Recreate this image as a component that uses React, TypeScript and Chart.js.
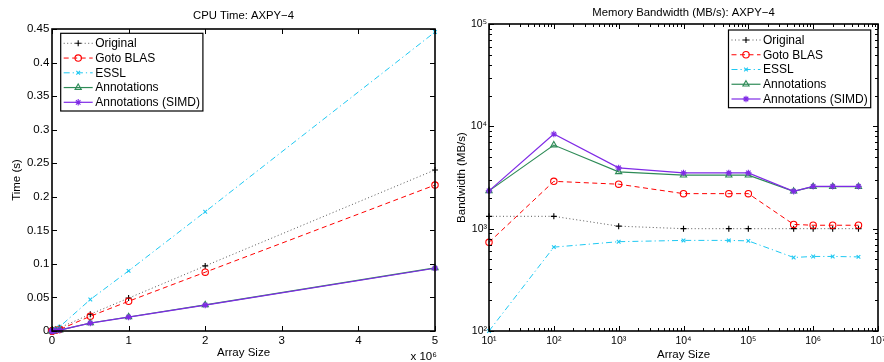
import React, { useEffect, useRef } from 'react';
import { Chart, registerables } from 'chart.js';
import { drawPoint } from 'chart.js/helpers';

Chart.register(...registerables);

const FONT = '"Liberation Sans", Arial, Helvetica, sans-serif';

// ---------- data ----------
const arraySizes = [10, 100, 1000, 10000, 50000, 100000, 500000, 1000000, 2000000, 5000000];
const seriesNames = ['Original', 'Goto BLAS', 'ESSL', 'Annotations', 'Annotations (SIMD)'];

// CPU time (s)
const timeOriginal = [0.0000004, 0.000004, 0.000046, 0.00048, 0.0024, 0.0048, 0.025, 0.049, 0.097, 0.24];
const timeGoto = [0.0000007, 0.0000016, 0.000018, 0.00022, 0.0011, 0.0022, 0.022, 0.0443, 0.0876, 0.2175];
const timeEssl = [0.0000048, 0.0000073, 0.000064, 0.00063, 0.0031, 0.0063, 0.0469, 0.0896, 0.1777, 0.4455];
const timeAnnot = [0.0000002, 0.00000073, 0.0000134, 0.000144, 0.00072, 0.00144, 0.0119, 0.0209, 0.0388, 0.094];
const timeSimd = [0.0000002, 0.00000057, 0.0000122, 0.000137, 0.00068, 0.00137, 0.0118, 0.0207, 0.0385, 0.0935];

// Memory bandwidth (MB/s)
const bwOriginal = [1320, 1320, 1058, 1000, 1000, 1000, 1000, 1000, 1000, 1000];
const bwGoto = [735, 2900, 2720, 2200, 2200, 2200, 1100, 1080, 1080, 1080];
const bwEssl = [100, 660, 746, 768, 768, 760, 523, 535, 535, 530];
const bwAnnot = [2340, 6560, 3590, 3330, 3330, 3330, 2320, 2570, 2570, 2570];
const bwSimd = [2340, 8410, 3930, 3510, 3510, 3510, 2320, 2590, 2590, 2590];

// ticks
const timeXTickValues = [0, 1000000, 2000000, 3000000, 4000000, 5000000];
const timeXTickLabels = ['0', '1', '2', '3', '4', '5'];
const timeYTickValues = [0, 0.05, 0.1, 0.15, 0.2, 0.25, 0.3, 0.35, 0.4, 0.45];
const timeYTickLabels = ['0', '0.05', '0.1', '0.15', '0.2', '0.25', '0.3', '0.35', '0.4', '0.45'];
const bwXTickValues = [10, 100, 1000, 10000, 100000, 1000000, 10000000];
const bwXTickLabels = ['10¹', '10²', '10³', '10⁴', '10⁵', '10⁶', '10⁷'];
const bwYTickValues = [100, 1000, 10000, 100000];
const bwYTickLabels = ['10²', '10³', '10⁴', '10⁵'];

// ---------- styles ----------
const seriesStyles = [
  { line: 'rgba(60,60,60,0.85)', marker: '#000', dash: [1, 2.5], point: 'cross', radius: 3, width: 1, fill: 'rgba(0,0,0,0)' },
  { line: '#ff0000', marker: '#ff0000', dash: [5, 3.5], point: 'circle', radius: 3.2, width: 1, fill: 'rgba(0,0,0,0)' },
  { line: '#1ec8f2', marker: '#1ec8f2', dash: [6, 3, 1.2, 3], point: 'crossRot', radius: 2.6, width: 1, fill: 'rgba(0,0,0,0)' },
  { line: '#2e8b57', marker: '#2e8b57', dash: [], point: 'triangle', radius: 3.6, width: 1.2, fill: 'rgba(0,0,0,0)' },
  { line: '#7f2ae6', marker: '#7f2ae6', dash: [], point: 'star', radius: 3.2, width: 1.2, fill: '#7f2ae6' },
];

function makeDatasets(series: number[][]) {
  return series.map((vals, i) => {
    const s = seriesStyles[i];
    return {
      label: seriesNames[i],
      data: arraySizes.map((x, j) => ({ x, y: vals[j] })),
      borderColor: s.line,
      borderWidth: s.width,
      borderDash: s.dash,
      pointStyle: s.point,
      pointRadius: s.radius,
      pointBorderColor: s.marker,
      pointBackgroundColor: s.fill,
      pointBorderWidth: 1.1,
      fill: false,
      tension: 0,
      clip: false as any,
      order: 5 - i,
    };
  });
}

// ---------- plugins ----------
const frameTicksPlugin = {
  id: 'frameTicks',
  afterDatasetsDraw(chart: any, _args: any, opts: any) {
    const { ctx, chartArea: a, scales } = chart;
    const xs = scales.x;
    const ys = scales.y;
    const major = 5;
    const minor = 3;
    ctx.save();
    ctx.setLineDash([]);
    ctx.strokeStyle = '#000';
    ctx.lineWidth = 1;
    ctx.beginPath();
    xs.ticks.forEach((t: any) => {
      const p = Math.round(xs.getPixelForValue(t.value)) + 0.5;
      ctx.moveTo(p, a.bottom);
      ctx.lineTo(p, a.bottom - major);
      ctx.moveTo(p, a.top);
      ctx.lineTo(p, a.top + major);
    });
    ys.ticks.forEach((t: any) => {
      const p = Math.round(ys.getPixelForValue(t.value)) + 0.5;
      ctx.moveTo(a.left, p);
      ctx.lineTo(a.left + major, p);
      ctx.moveTo(a.right, p);
      ctx.lineTo(a.right - major, p);
    });
    if (opts && opts.minor) {
      const minorVals = (sc: any) => {
        const out: number[] = [];
        const lo = Math.floor(Math.log10(sc.min));
        const hi = Math.ceil(Math.log10(sc.max));
        for (let k = lo; k < hi; k++) {
          for (let m = 2; m <= 9; m++) {
            const v = m * Math.pow(10, k);
            if (v > sc.min && v < sc.max) out.push(v);
          }
        }
        return out;
      };
      minorVals(xs).forEach((v) => {
        const p = Math.round(xs.getPixelForValue(v)) + 0.5;
        ctx.moveTo(p, a.bottom);
        ctx.lineTo(p, a.bottom - minor);
        ctx.moveTo(p, a.top);
        ctx.lineTo(p, a.top + minor);
      });
      minorVals(ys).forEach((v) => {
        const p = Math.round(ys.getPixelForValue(v)) + 0.5;
        ctx.moveTo(a.left, p);
        ctx.lineTo(a.left + minor, p);
        ctx.moveTo(a.right, p);
        ctx.lineTo(a.right - minor, p);
      });
    }
    ctx.stroke();
    ctx.lineWidth = 1.6;
    ctx.strokeRect(a.left, a.top, a.right - a.left, a.bottom - a.top);
    ctx.restore();
  },
};

const decorPlugin = {
  id: 'decor',
  afterDraw(chart: any, _args: any, opts: any) {
    const { ctx, chartArea: a } = chart;
    ctx.save();
    // title centred on plot area
    ctx.fillStyle = '#000';
    ctx.font = `11.3px ${FONT}`;
    ctx.textAlign = 'center';
    ctx.textBaseline = 'middle';
    ctx.fillText(opts.title, (a.left + a.right) / 2, opts.titleY);

    // exponent note
    if (opts.note) {
      ctx.font = `11.5px ${FONT}`;
      ctx.textAlign = 'right';
      ctx.textBaseline = 'alphabetic';
      ctx.fillText(opts.note, a.right + 2, a.bottom + 28.5);
    }

    // legend
    const dss = chart.data.datasets;
    ctx.font = `12px ${FONT}`;
    let maxW = 0;
    dss.forEach((d: any) => {
      maxW = Math.max(maxW, ctx.measureText(d.label).width);
    });
    const textX = 34.5;
    const bw = textX + maxW + 3;
    const rowH = 14.75;
    const bh = 77.7;
    const bx = opts.legendSide === 'left' ? a.left + 8.7 : a.right - 7.3 - bw;
    const by = a.top + opts.legendTop;
    ctx.fillStyle = '#fff';
    ctx.fillRect(bx, by, bw, bh);
    ctx.strokeStyle = '#000';
    ctx.lineWidth = 1.2;
    ctx.setLineDash([]);
    ctx.strokeRect(bx, by, bw, bh);
    dss.forEach((d: any, i: number) => {
      const ry = by + 10 + rowH * i;
      ctx.strokeStyle = d.borderColor;
      ctx.lineWidth = d.borderWidth;
      ctx.setLineDash(d.borderDash || []);
      ctx.beginPath();
      ctx.moveTo(bx + 3, ry);
      ctx.lineTo(bx + 32, ry);
      ctx.stroke();
      ctx.setLineDash([]);
      ctx.strokeStyle = d.pointBorderColor;
      ctx.fillStyle = d.pointBackgroundColor;
      ctx.lineWidth = d.pointBorderWidth;
      drawPoint(ctx, { pointStyle: d.pointStyle, radius: d.pointRadius, rotation: 0, borderWidth: d.pointBorderWidth } as any, bx + 17.5, ry);
      ctx.fillStyle = '#000';
      ctx.textAlign = 'left';
      ctx.textBaseline = 'middle';
      ctx.fillText(d.label, bx + textX, ry + 0.5);
    });
    ctx.restore();
  },
};

// ---------- configs ----------
function leftConfig(): any {
  return {
    type: 'line',
    data: { datasets: makeDatasets([timeOriginal, timeGoto, timeEssl, timeAnnot, timeSimd]) },
    plugins: [frameTicksPlugin, decorPlugin],
    options: {
      animation: false,
      responsive: false,
      devicePixelRatio: 1,
      parsing: true,
      layout: { padding: { top: 29, right: 7, bottom: 0, left: 0 } },
      plugins: {
        legend: { display: false },
        tooltip: { enabled: false },
        title: { display: false },
        frameTicks: { minor: false },
        decor: { title: 'CPU Time: AXPY−4', titleY: 15.5, note: 'x 10⁶', legendSide: 'left', legendTop: 4.3 },
      },
      scales: {
        x: {
          type: 'linear',
          min: 0,
          max: 5000000,
          grid: { display: false, drawTicks: false },
          border: { display: false },
          afterBuildTicks: (s: any) => {
            s.ticks = timeXTickValues.map((v) => ({ value: v }));
          },
          afterFit: (s: any) => {
            s.height = 31;
            s.paddingLeft = 0;
            s.paddingRight = 0;
          },
          ticks: {
            autoSkip: false,
            maxRotation: 0,
            padding: 2.5,
            color: '#000',
            font: { family: FONT, size: 11.5 },
            callback: (_v: any, i: number) => timeXTickLabels[i],
          },
          title: { display: true, text: 'Array Size', color: '#000', font: { family: FONT, size: 11.5 }, padding: { top: 0, bottom: 2.1 } },
        },
        y: {
          type: 'linear',
          min: 0,
          max: 0.45,
          grid: { display: false, drawTicks: false },
          border: { display: false },
          afterBuildTicks: (s: any) => {
            s.ticks = timeYTickValues.map((v) => ({ value: v }));
          },
          afterFit: (s: any) => {
            s.width = 52;
            s.paddingTop = 0;
            s.paddingBottom = 0;
          },
          ticks: {
            autoSkip: false,
            padding: 2.7,
            color: '#000',
            font: { family: FONT, size: 11.5 },
            callback: (_v: any, i: number) => timeYTickLabels[i],
          },
          title: { display: true, text: 'Time (s)', color: '#000', font: { family: FONT, size: 11.5 }, padding: { top: 10, bottom: 0 } },
        },
      },
    },
  };
}

function rightConfig(): any {
  return {
    type: 'line',
    data: { datasets: makeDatasets([bwOriginal, bwGoto, bwEssl, bwAnnot, bwSimd]) },
    plugins: [frameTicksPlugin, decorPlugin],
    options: {
      animation: false,
      responsive: false,
      devicePixelRatio: 1,
      layout: { padding: { top: 24, right: 6, bottom: 0, left: 0 } },
      plugins: {
        legend: { display: false },
        tooltip: { enabled: false },
        title: { display: false },
        frameTicks: { minor: true },
        decor: { title: 'Memory Bandwidth (MB/s): AXPY−4', titleY: 12.7, note: '', legendSide: 'right', legendTop: 6 },
      },
      scales: {
        x: {
          type: 'logarithmic',
          min: 10,
          max: 10000000,
          grid: { display: false, drawTicks: false },
          border: { display: false },
          afterBuildTicks: (s: any) => {
            s.ticks = bwXTickValues.map((v) => ({ value: v }));
          },
          afterFit: (s: any) => {
            s.height = 31;
            s.paddingLeft = 0;
            s.paddingRight = 0;
          },
          ticks: {
            autoSkip: false,
            maxRotation: 0,
            padding: 4,
            color: '#000',
            font: { family: FONT, size: 10.5 },
            callback: (_v: any, i: number) => bwXTickLabels[i],
          },
          title: { display: true, text: 'Array Size', color: '#000', font: { family: FONT, size: 11.5 }, padding: { top: 0, bottom: 0 } },
        },
        y: {
          type: 'logarithmic',
          min: 100,
          max: 100000,
          grid: { display: false, drawTicks: false },
          border: { display: false },
          afterBuildTicks: (s: any) => {
            s.ticks = bwYTickValues.map((v) => ({ value: v }));
          },
          afterFit: (s: any) => {
            s.width = 47;
            s.paddingTop = 0;
            s.paddingBottom = 0;
          },
          ticks: {
            autoSkip: false,
            padding: 2,
            color: '#000',
            font: { family: FONT, size: 10.5 },
            callback: (_v: any, i: number) => bwYTickLabels[i],
          },
          title: { display: true, text: 'Bandwidth (MB/s)', color: '#000', font: { family: FONT, size: 11.5 }, padding: { top: 13, bottom: 0 } },
        },
      },
    },
  };
}

export default function App() {
  const leftRef = useRef<HTMLCanvasElement>(null);
  const rightRef = useRef<HTMLCanvasElement>(null);
  useEffect(() => {
    const c1 = new Chart(leftRef.current as HTMLCanvasElement, leftConfig());
    const c2 = new Chart(rightRef.current as HTMLCanvasElement, rightConfig());
    return () => {
      c1.destroy();
      c2.destroy();
    };
  }, []);
  return (
    <div style={{ position: 'fixed', left: 0, top: 0, width: 884, height: 362, overflow: 'hidden', background: '#fff' }}>
      <canvas ref={leftRef} width={442} height={362} style={{ position: 'absolute', left: 0, top: 0, width: 442, height: 362 }} />
      <canvas ref={rightRef} width={442} height={362} style={{ position: 'absolute', left: 442, top: 0, width: 442, height: 362 }} />
    </div>
  );
}
